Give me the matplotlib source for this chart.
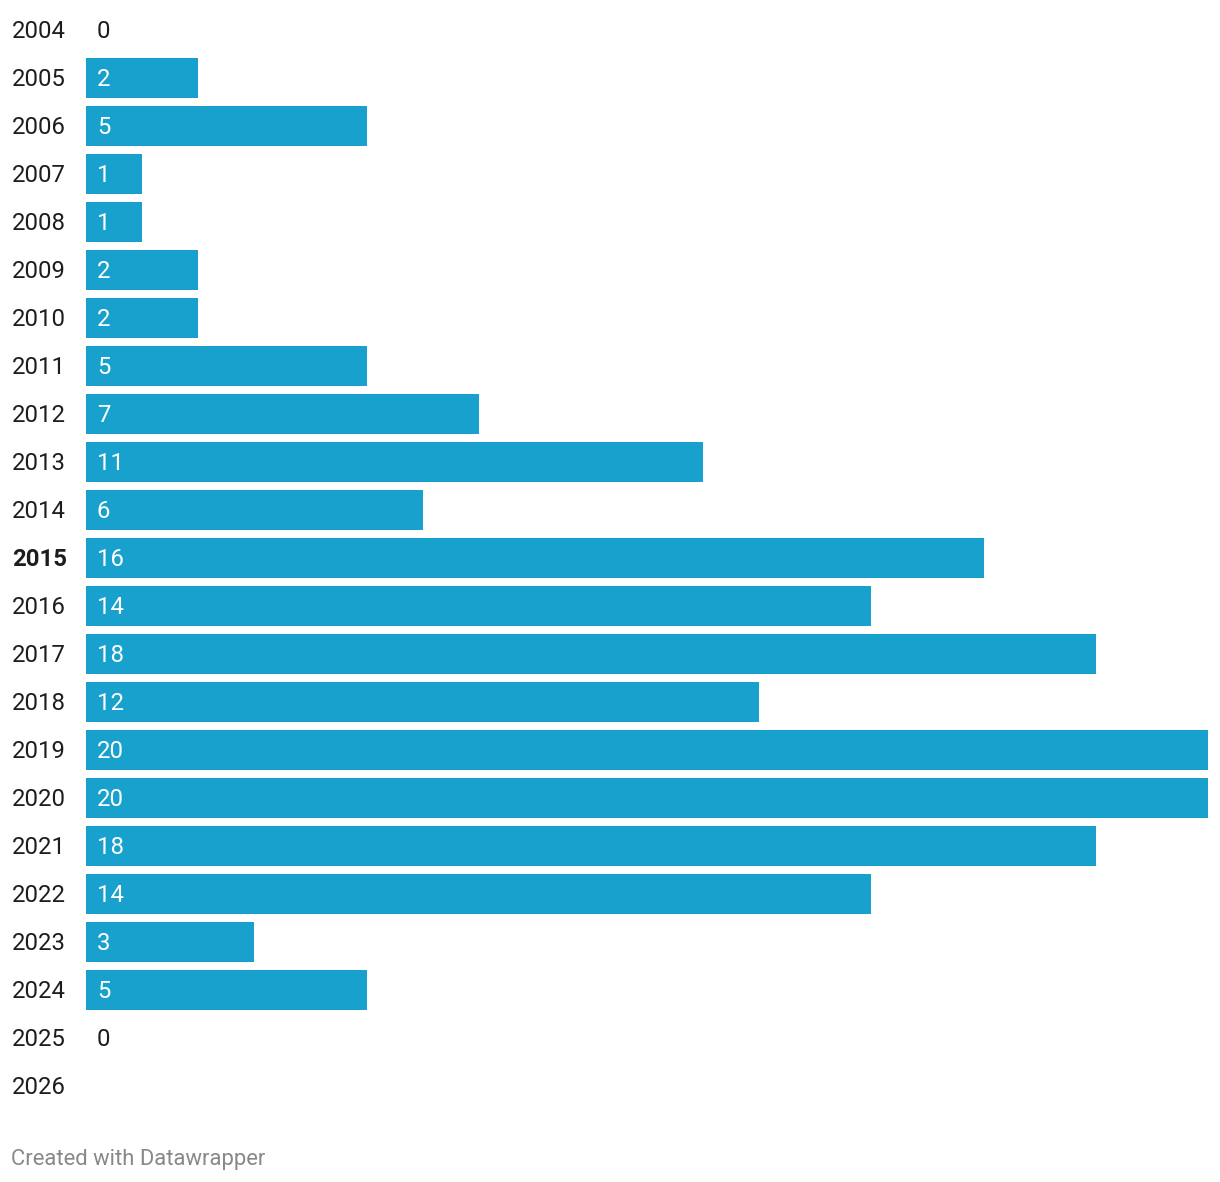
import numpy as np
import matplotlib.pyplot as plt
import matplotlib.transforms as mtransforms

plt.rcParams['font.family'] = ['Roboto', 'DejaVu Sans']

# data
years = ['2004', '2005', '2006', '2007', '2008', '2009', '2010', '2011', '2012', '2013',
         '2014', '2015', '2016', '2017', '2018', '2019', '2020', '2021', '2022', '2023',
         '2024', '2025', '2026']
counts = [0, 2, 5, 1, 1, 2, 2, 5, 7, 11, 6, 16, 14, 18, 12, 20, 20, 18, 14, 3, 5, 0, None]
bold_year = '2015'

W, H = 1220, 1182
fig = plt.figure(figsize=(W / 100, H / 100), dpi=100)
ax = fig.add_axes([86 / W, 72 / H, (1208 - 86) / W, 1104 / H])

pos = np.arange(len(years))
vals = [0 if c is None else c for c in counts]
ax.barh(pos, vals, height=40 / 48, color='#18a1cd', linewidth=0)
ax.set_xlim(0, 20)
ax.set_ylim(len(years) - 0.5, -0.5)
ax.axis('off')

trans = mtransforms.blended_transform_factory(fig.transFigure, ax.transData)
for i, (y, c) in enumerate(zip(years, counts)):
    ax.annotate(y, xy=(12 / W, i), xycoords=trans, xytext=(0, 0.72),
                textcoords='offset points', ha='left', va='center_baseline',
                fontsize=17.2, color='#1d1d1d',
                fontweight='bold' if y == bold_year else 'normal')
    if c is None:
        continue
    ax.annotate(str(c), xy=(0, i), xytext=(11 * 0.72, 0.72), textcoords='offset points',
                ha='left', va='center_baseline', fontsize=17.2,
                color='white' if c > 0 else '#1d1d1d')

fig.text(11 / W, 1 - 1157 / H, 'Created with Datawrapper', ha='left', va='center_baseline',
         fontsize=15.8, color='#888888')

fig.savefig('out.png', dpi=100, facecolor='white')
